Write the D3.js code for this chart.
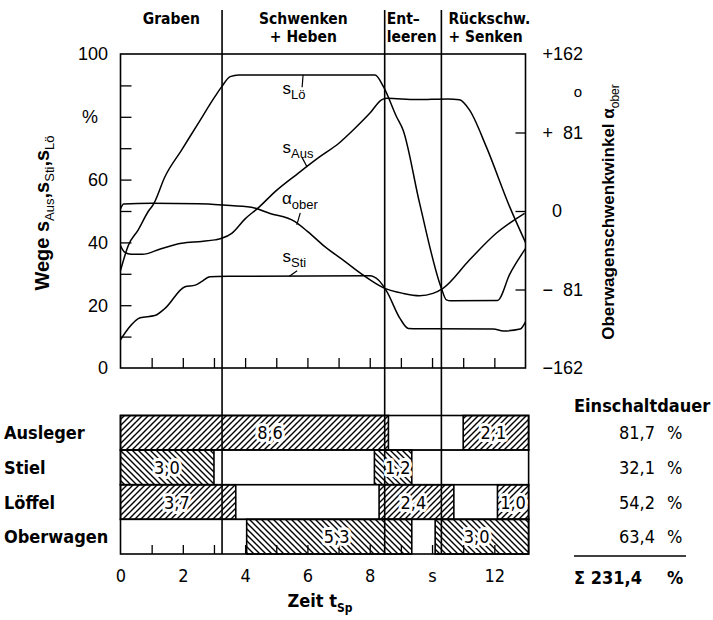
<!DOCTYPE html>
<html>
<head>
<meta charset="utf-8">
<script src="https://cdn.jsdelivr.net/npm/d3@7"></script>
<style>
  body { margin: 0; background: #fff; }
  text { fill: #000; }
  .cond { font-family: "DejaVu Sans Condensed", "DejaVu Sans", sans-serif; }
  .helv { font-family: "Liberation Sans", Arial, sans-serif; }
  .tick line { stroke: #000; stroke-width: 1.3px; }
</style>
</head>
<body>
<svg id="chart" width="713" height="620"></svg>
<script>
// Zeiten in s, Wege in %, Winkel in Grad
const tLo  = [0, 0.25, 0.57, 0.9, 1.05, 1.43, 1.96, 2.5, 3.03, 3.25, 3.52, 3.8, 6.0, 8.17, 8.44, 8.86, 9.07, 9.6, 10.3, 10.46, 10.6, 12.1, 12.5, 13.0];
const sLo  = [31, 39, 44, 50, 52, 61, 69.4, 78, 86.4, 89.6, 92.8, 93.3, 93.3, 93.3, 89.6, 80, 75.8, 52.5, 25.4, 21.7, 21.4, 21.5, 30, 38];

const tAus = [0, 0.12, 0.35, 0.7, 1.3, 1.96, 2.6, 3.03, 3.25, 3.57, 4.0, 4.42, 5.0, 5.7, 6.4, 7.0, 7.47, 8.0, 8.38, 8.55, 9.5, 10.5, 10.88, 11.2, 11.74, 12.49, 13.0];
const sAus = [39, 37, 36.2, 36.2, 38, 39.7, 40.3, 40.8, 41.3, 42.9, 47.5, 51, 56.5, 62, 67.3, 71.5, 75.8, 81.1, 85.4, 85.9, 85.5, 85.7, 85.4, 82.2, 70.5, 51.4, 40];

const tSti = [0, 0.25, 0.63, 1.1, 1.43, 2.07, 2.4, 2.6, 2.87, 3.5, 8.0, 8.28, 8.55, 8.97, 9.24, 9.6, 11.97, 12.29, 12.83, 13.0];
const sSti = [9, 12.6, 16, 16.7, 19, 25.9, 26.4, 27.5, 29.1, 29.2, 29.4, 28, 24.3, 15.8, 12.6, 12.5, 12.4, 11.8, 12.4, 14.7];

const tOb  = [0, 0.1, 1.0, 2.5, 3.3, 4.2, 4.8, 5.6, 6.0, 6.56, 7.2, 7.78, 8.43, 9.07, 9.6, 10.03, 10.35, 11.2, 12.06, 12.97];
const aOb  = [2, 7.2, 7.9, 7.5, 6.2, 3.8, -2.5, -11, -21, -36.8, -52, -66, -79, -85, -87.4, -85, -79.8, -50.6, -23, -2.4];

// Arbeitsphasen
const phaseBounds = [3.26, 8.48, 10.3];
const phaseNames = [["Graben"], ["Schwenken", "+ Heben"], ["Ent\u2013", "leeren"], ["R\u00fcckschw.", "+ Senken"]];

// Einschaltzeiten der Antriebe
const rowNames = ["Ausleger", "Stiel", "L\u00f6ffel", "Oberwagen"];
const hatchDir = ["fwd", "back", "fwd", "back"];
const onTimes = [
  [[0, 8.6], [11.0, 13.1]],
  [[0, 3.0], [8.15, 9.35]],
  [[0, 3.7], [8.3, 10.7], [12.1, 13.1]],
  [[4.05, 9.35], [10.1, 13.1]]
];
const onLabels = [["8,6", "2,1"], ["3,0", "1,2"], ["3,7", "2,4", "1,0"], ["5,3", "3,0"]];
const labelTimes = [[4.8, 11.97], [1.49, 8.9], [1.81, 9.4, 12.6], [6.94, 11.43]];
const einschaltdauer = ["81,7", "32,1", "54,2", "63,4"];
const summe = "231,4";
const tEnd = 13.1;

const leftTicks = [0, 20, 40, 60, 80, 100];
const leftTickText = ["0", "20", "40", "60", "%", "100"];
const rightTicks = [-162, -81, 0, 81, 162];
const rightTickText = ["\u2212162", "\u2212  81", "0", "+  81", "+162"];
const xLabelTicks = [0, 2, 4, 6, 8, 10, 12];

const svg = d3.select("#chart");

const x = d3.scaleLinear().domain([0, 13]).range([120.5, 525.5]);
const yS = d3.scaleLinear().domain([0, 100]).range([368, 54]);
const yA = d3.scaleLinear().domain([-162, 162]).range([368, 54]);
const yRow = d3.scaleBand().domain(rowNames).range([415.5, 554]);

// Schraffuren
const defs = svg.append("defs");
defs.append("pattern").attr("id", "fwd").attr("patternUnits", "userSpaceOnUse")
  .attr("width", 6).attr("height", 6)
  .append("path").attr("d", "M-1,1 L1,-1 M0,6 L6,0 M5,7 L7,5")
  .attr("stroke", "#000").attr("stroke-width", 1.4);
defs.append("pattern").attr("id", "back").attr("patternUnits", "userSpaceOnUse")
  .attr("width", 6).attr("height", 6)
  .append("path").attr("d", "M-1,5 L1,7 M0,0 L6,6 M5,-1 L7,1")
  .attr("stroke", "#000").attr("stroke-width", 1.4);

// Diagrammrahmen oben
svg.append("rect")
  .attr("x", x(0)).attr("y", yS(100))
  .attr("width", x(13) - x(0)).attr("height", yS(0) - yS(100))
  .attr("fill", "none").attr("stroke", "#000").attr("stroke-width", 1.6);

svg.append("g").attr("transform", `translate(0,${yS(0)})`)
  .call(d3.axisBottom(x).tickValues(d3.range(1, 13)).tickSize(-10).tickFormat(""))
  .call(g => g.select(".domain").remove());
svg.append("g").attr("transform", `translate(${x(0)},0)`)
  .call(d3.axisLeft(yS).tickValues(d3.range(10, 100, 10)).tickSize(-11).tickFormat(""))
  .call(g => g.select(".domain").remove());
svg.append("g").attr("transform", `translate(${x(13)},0)`)
  .call(d3.axisRight(yA).tickValues([-81, 0, 81]).tickSize(-10).tickFormat(""))
  .call(g => g.select(".domain").remove());

// Achsbeschriftung links
svg.append("g").selectAll("text").data(leftTicks).join("text")
  .attr("class", "helv").attr("font-size", 18)
  .attr("x", d => d === 80 ? 90 : 108)
  .attr("y", d => yS(d)).attr("dy", "0.36em")
  .attr("text-anchor", d => d === 80 ? "middle" : "end")
  .text((d, i) => leftTickText[i]);

// Achsbeschriftung rechts
svg.append("g").selectAll("text").data(rightTicks).join("text")
  .attr("class", "helv").attr("font-size", 18)
  .attr("x", d => d === 0 ? 557 : 583)
  .attr("y", d => yA(d)).attr("dy", "0.36em")
  .attr("text-anchor", d => d === 0 ? "middle" : "end")
  .style("white-space", "pre")
  .text((d, i) => rightTickText[i]);
svg.append("text").attr("class", "helv").attr("font-size", 15)
  .attr("x", 578).attr("y", 97).attr("text-anchor", "middle").text("o");

// Achstitel
const lt = svg.append("text").attr("class", "helv").attr("font-weight", "bold")
  .attr("font-size", 20).attr("text-anchor", "middle")
  .attr("transform", "translate(49,213) rotate(-90)");
lt.append("tspan").text("Wege  s");
lt.append("tspan").attr("font-size", 13).attr("font-weight", "normal").attr("dy", 5).text("Aus");
lt.append("tspan").attr("dy", -5).text(",s");
lt.append("tspan").attr("font-size", 13).attr("font-weight", "normal").attr("dy", 5).text("Sti");
lt.append("tspan").attr("dy", -5).text(",s");
lt.append("tspan").attr("font-size", 13).attr("font-weight", "normal").attr("dy", 5).text("L\u00f6");

const rt = svg.append("text").attr("class", "helv").attr("font-weight", "bold")
  .attr("font-size", 17).attr("text-anchor", "middle")
  .attr("transform", "translate(614,212) rotate(-90)");
rt.append("tspan").text("Oberwagenschwenkwinkel \u03b1");
rt.append("tspan").attr("font-size", 12).attr("font-weight", "normal").attr("dy", 5).text("ober");

// Kurven
const lineS = d3.line().x(d => x(d[0])).y(d => yS(d[1])).curve(d3.curveMonotoneX);
const lineA = d3.line().x(d => x(d[0])).y(d => yA(d[1])).curve(d3.curveMonotoneX);
const curves = svg.append("g").attr("fill", "none").attr("stroke", "#000").attr("stroke-width", 1.5);
curves.append("path").attr("d", lineS(d3.zip(tLo, sLo)));
curves.append("path").attr("d", lineS(d3.zip(tAus, sAus)));
curves.append("path").attr("d", lineS(d3.zip(tSti, sSti)));
curves.append("path").attr("d", lineA(d3.zip(tOb, aOb)));

// Kurvenbezeichnungen
const curveTags = [
  { main: "s", sub: "L\u00f6", t: 5.2, v: 87.2, lead: [[5.86, 93.3], [5.83, 89.4]] },
  { main: "s", sub: "Aus", t: 5.2, v: 68.6, lead: [[5.83, 67.0], [5.99, 64.0]] },
  { main: "\u03b1", sub: "ober", t: 5.18, v: 52.2, lead: [[5.77, 49.4], [5.66, 45.6]] },
  { main: "s", sub: "Sti", t: 5.2, v: 33.8, lead: [[5.67, 31.0], [5.42, 29.2]] }
];
curveTags.forEach(c => {
  const tx = svg.append("text").attr("class", "helv").attr("font-size", 17)
    .attr("x", x(c.t)).attr("y", yS(c.v));
  tx.append("tspan").text(c.main);
  tx.append("tspan").attr("font-size", 13).attr("dy", 5).text(c.sub);
  svg.append("line")
    .attr("x1", x(c.lead[0][0])).attr("y1", yS(c.lead[0][1]))
    .attr("x2", x(c.lead[1][0])).attr("y2", yS(c.lead[1][1]))
    .attr("stroke", "#000").attr("stroke-width", 1.2);
});

// Balken
rowNames.forEach((r, i) => {
  const g = svg.append("g");
  g.append("rect")
    .attr("x", x(0)).attr("y", yRow(r))
    .attr("width", x(tEnd) - x(0)).attr("height", yRow.bandwidth())
    .attr("fill", "#fff").attr("stroke", "#000").attr("stroke-width", 1.6);
  g.selectAll("rect.seg").data(onTimes[i]).join("rect").attr("class", "seg")
    .attr("x", d => x(d[0])).attr("y", yRow(r))
    .attr("width", d => x(d[1]) - x(d[0])).attr("height", yRow.bandwidth())
    .attr("fill", `url(#${hatchDir[i]})`).attr("stroke", "#000").attr("stroke-width", 1.6);
});

svg.append("g").attr("transform", `translate(0,${yRow.range()[1]})`)
  .call(d3.axisBottom(x).tickValues(d3.range(1, 13)).tickSize(-9).tickFormat(""))
  .call(g => g.select(".domain").remove());

// Phasengrenzen
svg.append("g").selectAll("line").data(phaseBounds).join("line")
  .attr("x1", d => x(d)).attr("x2", d => x(d))
  .attr("y1", 10).attr("y2", yRow.range()[1])
  .attr("stroke", "#000").attr("stroke-width", 1.6);

// Werte in den Balken
rowNames.forEach((r, i) => {
  svg.append("g").selectAll("text").data(onLabels[i]).join("text")
    .attr("class", "cond").attr("font-size", 18)
    .attr("x", (d, j) => x(labelTimes[i][j]))
    .attr("y", yRow(r) + yRow.bandwidth() / 2).attr("dy", "0.36em")
    .attr("text-anchor", "middle")
    .attr("stroke", "#fff").attr("stroke-width", 6).attr("stroke-linejoin", "round")
    .attr("paint-order", "stroke")
    .text(d => d);
});

// Zeilenbeschriftung
svg.append("g").selectAll("text").data(rowNames).join("text")
  .attr("class", "cond").attr("font-weight", "bold").attr("font-size", 18)
  .attr("x", 4).attr("y", d => yRow(d) + yRow.bandwidth() / 2).attr("dy", "0.36em")
  .text(d => d);

// Einschaltdauer
svg.append("text").attr("class", "cond").attr("font-weight", "bold").attr("font-size", 18)
  .attr("x", 574).attr("y", 412).text("Einschaltdauer");
const ed = svg.append("g").selectAll("g").data(einschaltdauer).join("g")
  .attr("transform", (d, i) => `translate(0,${yRow(rowNames[i]) + yRow.bandwidth() / 2})`);
ed.append("text").attr("class", "cond").attr("font-size", 18)
  .attr("x", 655).attr("dy", "0.36em").attr("text-anchor", "end").text(d => d);
ed.append("text").attr("class", "cond").attr("font-size", 18)
  .attr("x", 667).attr("dy", "0.36em").text("%");
svg.append("line").attr("x1", 574).attr("x2", 686).attr("y1", 556).attr("y2", 556)
  .attr("stroke", "#000").attr("stroke-width", 1.6);
svg.append("text").attr("class", "cond").attr("font-weight", "bold").attr("font-size", 18)
  .attr("x", 574).attr("y", 584).text("\u03a3 " + summe);
svg.append("text").attr("class", "cond").attr("font-weight", "bold").attr("font-size", 18)
  .attr("x", 667).attr("y", 584).text("%");

// Zeitachse
svg.append("g").attr("transform", `translate(0,${yRow.range()[1]})`)
  .call(d3.axisBottom(x).tickValues(xLabelTicks).tickSize(0).tickPadding(15)
    .tickFormat(d => d === 10 ? "s" : d))
  .call(g => g.select(".domain").remove())
  .call(g => g.selectAll("text").attr("class", "cond").attr("font-size", 18).attr("fill", "#000"));

const zt = svg.append("text").attr("class", "cond").attr("font-weight", "bold").attr("font-size", 18)
  .attr("x", 320).attr("y", 607).attr("text-anchor", "middle");
zt.append("tspan").text("Zeit  t");
zt.append("tspan").attr("font-size", 12).attr("dy", 5).text("Sp");

// Phasennamen
const ph = svg.append("g").selectAll("text").data(phaseNames).join("text")
  .attr("class", "cond").attr("font-weight", "bold").attr("font-size", 15.5)
  .attr("x", (d, i) => {
    const b = [0, ...phaseBounds];
    if (i < 2) return (x(b[i]) + x(b[i + 1])) / 2;
    return x(b[i]) + (i === 2 ? 2 : 7);
  })
  .attr("text-anchor", (d, i) => i < 2 ? "middle" : "start");
ph.selectAll("tspan").data(d => d).join("tspan")
  .attr("x", function () { return d3.select(this.parentNode).attr("x"); })
  .attr("y", (d, j) => 24 + j * 17.5)
  .text(d => d);
</script>
</body>
</html>
